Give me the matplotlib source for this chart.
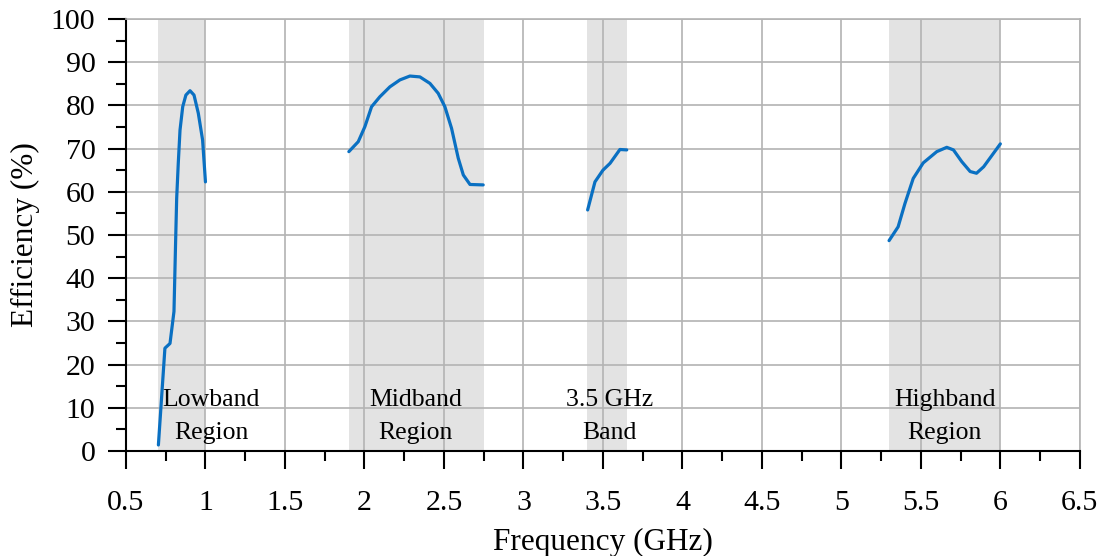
import numpy as np
import matplotlib.pyplot as plt
from matplotlib.ticker import MultipleLocator, FormatStrFormatter

plt.rcParams['font.family'] = ['Liberation Serif', 'DejaVu Serif']

# measured efficiency curves, one per band
low_f = [0.704, 0.745, 0.777, 0.802, 0.812, 0.819, 0.829, 0.840, 0.857, 0.877, 0.903,
         0.928, 0.955, 0.982, 1.0]
low_eff = [1.4, 23.8, 24.9, 32.3, 48.0, 58.5, 66.6, 74.3, 79.7, 82.4, 83.4,
           82.4, 78.2, 72.0, 62.3]

mid_f = [1.902, 1.961, 2.003, 2.045, 2.097, 2.16, 2.223, 2.286, 2.349, 2.412, 2.464,
         2.506, 2.548, 2.59, 2.622, 2.664, 2.747]
mid_eff = [69.3, 71.6, 75.1, 79.7, 82.0, 84.3, 85.9, 86.8, 86.6, 85.1, 82.8,
           79.7, 74.7, 67.8, 63.9, 61.7, 61.6]

band35_f = [3.404, 3.45, 3.5, 3.545, 3.607, 3.65]
band35_eff = [55.8, 62.3, 65.0, 66.6, 69.8, 69.7]

high_f = [5.3, 5.357, 5.4, 5.452, 5.515, 5.6, 5.663, 5.705, 5.757, 5.81, 5.85, 5.895, 6.0]
high_eff = [48.7, 51.9, 57.3, 63.1, 66.7, 69.3, 70.3, 69.7, 67.0, 64.7, 64.3, 65.8, 71.1]

band_edges = [(0.7, 1.0), (1.9, 2.75), (3.4, 3.65), (5.3, 6.0)]
band_names = ['Lowband\nRegion', 'Midband\nRegion', '3.5 GHz\nBand', 'Highband\nRegion']
name_x = [1.035, 2.32, 3.54, 5.65]

fig = plt.figure(figsize=(11.03, 5.56), dpi=100)
ax = fig.add_axes([0.1142, 0.1888, 0.8648, 0.777])

for (a, b) in band_edges:
    ax.axvspan(a, b, color='#e3e3e3', zorder=0, lw=0)

ax.grid(True, color='#b3b3b3', lw=1.2, zorder=1)
ax.set_axisbelow(True)

line_color = '#0a70c2'
for f, e in [(low_f, low_eff), (mid_f, mid_eff), (band35_f, band35_eff), (high_f, high_eff)]:
    ax.plot(f, e, color=line_color, lw=2.3, zorder=3, solid_capstyle='round',
            solid_joinstyle='round')

for x, name in zip(name_x, band_names):
    ax.text(x, 8.0, name, ha='center', va='center', fontsize=18.5, linespacing=1.6, zorder=4)

ax.set_xlim(0.5, 6.5)
ax.set_ylim(0, 100)
ax.xaxis.set_major_locator(MultipleLocator(0.5))
ax.xaxis.set_minor_locator(MultipleLocator(0.25))
ax.yaxis.set_major_locator(MultipleLocator(10))
ax.yaxis.set_minor_locator(MultipleLocator(5))
ax.xaxis.set_major_formatter(FormatStrFormatter('%g'))

ax.tick_params(which='major', direction='out', length=13, width=1.5, labelsize=21.5, pad=9)
ax.tick_params(axis='x', which='major', pad=15)
ax.tick_params(which='minor', direction='out', length=7, width=1.5)
ax.grid(False, which='minor')

for s in ['top', 'right']:
    ax.spines[s].set_color('#b3b3b3')
    ax.spines[s].set_linewidth(1.2)
for s in ['left', 'bottom']:
    ax.spines[s].set_linewidth(1.5)

ax.set_xlabel('Frequency (GHz)', fontsize=22.5, labelpad=9)
ax.set_ylabel('Efficiency (%)', fontsize=22.5, labelpad=8)

fig.savefig('out.png', dpi=100)
